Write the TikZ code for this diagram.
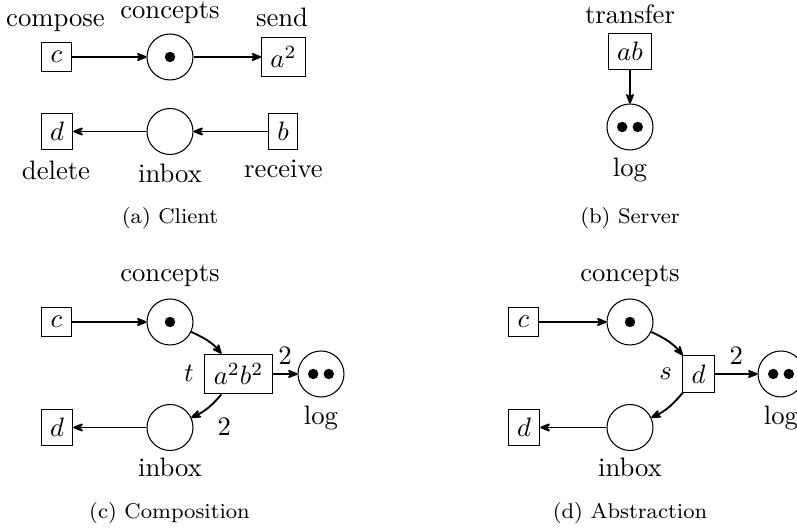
\documentclass[tikz,border=0pt]{standalone}
\usetikzlibrary{arrows.meta}
\begin{document}
\begin{tikzpicture}[x=0.375pt,y=0.375pt,
  place/.style={circle,draw,minimum size=17.25pt,inner sep=0pt},
  trans/.style={rectangle,draw,inner sep=3.333pt},
  tok/.style={circle,fill=black,minimum size=3.9pt,inner sep=0pt},
  lbl/.style={anchor=base,inner sep=0pt},
  capt/.style={anchor=base,inner sep=0pt,font=\footnotesize},
  arc/.style={line width=0.7pt,-{Stealth[length=5pt,width=4pt,inset=1.8pt,round]}}
]
\useasboundingbox (0,0) rectangle (797,529);

% ---------------- (a) Client
\node[trans] (ac) at (56.5,472) {$c$};
\node[place] (ap) at (170,472) {};
\node[tok] (apt) at (170,472) {};
\node[trans] (aa) at (283.5,472) {$a^2$};
\node[trans] (ad) at (57,397.5) {$d$};
\node[place] (ai) at (170,397.5) {};
\node[trans] (ab) at (283,397.5) {$b$};
\node[lbl] (alc) at (55.5,502) {compose};
\node[lbl] (alp) at (170,510.5) {concepts};
\node[lbl] (als) at (282,502) {send};
\node[lbl] (ald) at (56,349) {delete};
\node[lbl] (ali) at (170,346) {inbox};
\node[lbl] (alr) at (283.5,351) {receive};
\node[capt] (acap) at (170,305) {(a) Client};
\draw[arc] (ac) -- (ap);
\draw[arc] (ap) -- (aa);
\draw[arc] (ai) -- (ad);
\draw[arc] (ab) -- (ai);

% ---------------- (b) Server
\node[trans] (bt) at (630,477.5) {$ab$};
\node[place] (bl) at (630,402) {};
\node[tok] (bl1) at (622.2,402) {};
\node[tok] (bl2) at (637.8,402) {};
\node[lbl] (blt) at (630,505) {transfer};
\node[lbl] (bll) at (630,352) {log};
\node[capt] (bcap) at (630,305) {(b) Server};
\draw[arc] (bt) -- (bl);

% ---------------- (c) Composition
\node[trans] (cc) at (56.5,207) {$c$};
\node[place] (cp) at (170,207) {};
\node[tok] (cpt) at (170,207) {};
\node[trans] (ct) at (238.5,155) {$a^2b^2$};
\node[place] (cl) at (321,155) {};
\node[tok] (cl1) at (313.2,155) {};
\node[tok] (cl2) at (328.8,155) {};
\node[trans] (cd) at (57,101.5) {$d$};
\node[place] (ci) at (170,101.5) {};
\node[lbl] (clp) at (170,247) {concepts};
\node[lbl] (clt) at (189,147) {$t$};
\node[lbl] (cll) at (321,104.5) {log};
\node[lbl] (cli) at (170,52) {inbox};
\node[capt] (ccap) at (169.5,10) {(c) Composition};
\draw[arc] (cc) -- (cp);
\draw[arc] (cp) to[out=-25,in=130] (ct);
\draw[arc] (ct) -- node[above] {2} (cl);
\draw[arc] (ct) to[out=-130,in=25] node[below right] {2} (ci);
\draw[arc] (ci) -- (cd);

% ---------------- (d) Abstraction
\node[trans] (dc) at (523.5,207) {$c$};
\node[place] (dp) at (630,207) {};
\node[tok] (dpt) at (630,207) {};
\node[trans] (ds) at (698.5,155) {$d$};
\node[place] (dl) at (781,155) {};
\node[tok] (dl1) at (773.2,155) {};
\node[tok] (dl2) at (788.8,155) {};
\node[trans] (dd) at (524,101.5) {$d$};
\node[place] (di) at (630,101.5) {};
\node[lbl] (dlp) at (630,247) {concepts};
\node[lbl] (dls) at (665.5,149) {$s$};
\node[lbl] (dll) at (781,104.5) {log};
\node[lbl] (dli) at (630,52) {inbox};
\node[capt] (dcap) at (630,10) {(d) Abstraction};
\draw[arc] (dc) -- (dp);
\draw[arc] (dp) to[out=-25,in=130] (ds);
\draw[arc] (ds) -- node[above] {2} (dl);
\draw[arc] (ds) to[out=-130,in=25] (di);
\draw[arc] (di) -- (dd);
\end{tikzpicture}
\end{document}
